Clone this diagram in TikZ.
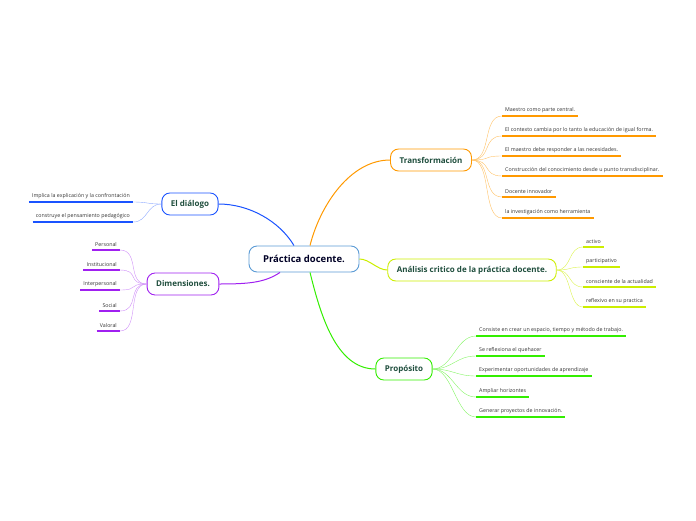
\documentclass[tikz,border=0pt]{standalone}
\usepackage{fontspec}
\setmainfont{Open Sans}
\definecolor{cblue}{HTML}{1A53FF}
\definecolor{corange}{HTML}{FF9900}
\definecolor{cyellow}{HTML}{CCEE00}
\definecolor{cgreen}{HTML}{33EE00}
\definecolor{cpurple}{HTML}{A020F0}
\definecolor{ccenter}{HTML}{5B9BD5}
\definecolor{ctext}{HTML}{1F4E3D}
\tikzset{
  hub/.style={draw, line width=0.9pt, rounded corners=8pt, fill=white, minimum height=22pt,
    font=\fontsize{8}{9}\selectfont\bfseries, text=ctext, inner xsep=9pt},
  leaf/.style={font=\fontsize{5.3}{6}\selectfont, text=black!80, inner xsep=3pt, inner ysep=3pt},
  twig/.style={line width=0.4pt},
  branch/.style={line width=1pt}
}
\begin{document}
\begin{tikzpicture}[x=1pt,y=-1pt]
    \useasboundingbox (0,0) rectangle (696,520);
    % central idea
    \node[hub, draw=ccenter, text=black!85!blue, minimum width=110pt, minimum height=26pt,
      font=\fontsize{9.5}{11}\selectfont\bfseries] (core) at (304,259) {Práctica docente.};
    % main topics
    \node[hub, draw=corange] (trans) at (431,160) {Transformación};
    \node[hub, draw=cyellow] (anal) at (472,270) {Análisis critico de la práctica docente.};
    \node[hub, draw=cgreen] (prop) at (404,369) {Propósito};
    \node[hub, draw=cblue] (dial) at (190,204) {El diálogo};
    \node[hub, draw=cpurple] (dims) at (183,284) {Dimensiones.};
    \draw[branch, corange] ([xshift=6pt]core.north) .. controls +(10,-40) and +(-40,0) .. (trans.west);
    \draw[branch, cyellow] (core.east) .. controls +(10,0) and +(-10,0) .. (anal.west);
    \draw[branch, cgreen] ([xshift=6pt]core.south) .. controls +(10,40) and +(-40,0) .. (prop.west);
    \draw[branch, cblue] ([xshift=-10pt]core.north) .. controls +(-15,-25) and +(30,0) .. (dial.east);
    \draw[branch, cpurple] ([xshift=-24pt]core.south) .. controls +(-15,10) and +(30,0) .. (dims.east);
    % right side leaves
    \foreach \n/\y/\t in {1/116/{Maestro como parte central.},
        2/136/{El contexto cambia por lo tanto la educación de igual forma.},
        3/156/{El maestro debe responder a las necesidades.},
        4/176/{Construcción del conocimiento desde u punto transdisciplinar.},
        5/197/{Docente innovador},
        6/218/{la investigación como herramienta}} {
      \node[leaf, anchor=south west] (t\n) at (502,\y) {\t};
      \draw[corange, line width=1.2pt] (t\n.south west) -- (t\n.south east);
      \draw[twig, corange!60] (trans.east) .. controls +(20,0) and +(-20,0) .. (t\n.south west);
    }
    \foreach \n/\y/\t in {1/247/{activo}, 2/267/{participativo},
        3/287/{consciente de la actualidad}, 4/307/{reflexivo en su practica}} {
      \node[leaf, anchor=south west] (a\n) at (583,\y) {\t};
      \draw[cyellow, line width=1.2pt] (a\n.south west) -- (a\n.south east);
      \draw[twig, cyellow!70] (anal.east) .. controls +(15,0) and +(-15,0) .. (a\n.south west);
    }
    \foreach \n/\y/\t in {1/336/{Consiste en crear un espacio, tiempo y método de trabajo.},
        2/356/{Se reflexiona el quehacer},
        3/376/{Experimentar oportunidades de aprendizaje},
        4/397/{Ampliar horizontes},
        5/417/{Generar proyectos de innovación.}} {
      \node[leaf, anchor=south west] (p\n) at (476,\y) {\t};
      \draw[cgreen, line width=1.2pt] (p\n.south west) -- (p\n.south east);
      \draw[twig, cgreen!60] (prop.east) .. controls +(20,0) and +(-20,0) .. (p\n.south west);
    }
    % left side leaves
    \foreach \n/\y/\t in {1/202/{Implica la explicación y la confrontación},
        2/222/{construye el pensamiento pedagógico}} {
      \node[leaf, anchor=south east] (d\n) at (133,\y) {\t};
      \draw[cblue, line width=1.2pt] (d\n.south west) -- (d\n.south east);
      \draw[twig, cblue!50] (dial.west) .. controls +(-15,0) and +(15,0) .. (d\n.south east);
    }
    \foreach \n/\y/\t in {1/250/{Personal}, 2/270/{Institucional}, 3/290/{Interpersonal},
        4/311/{Social}, 5/331/{Valoral}} {
      \node[leaf, anchor=south east] (m\n) at (120,\y) {\t};
      \draw[cpurple, line width=1.2pt] (m\n.south west) -- (m\n.south east);
      \draw[twig, cpurple!50] (dims.west) .. controls +(-20,0) and +(20,0) .. (m\n.south east);
    }
\end{tikzpicture}
\end{document}
